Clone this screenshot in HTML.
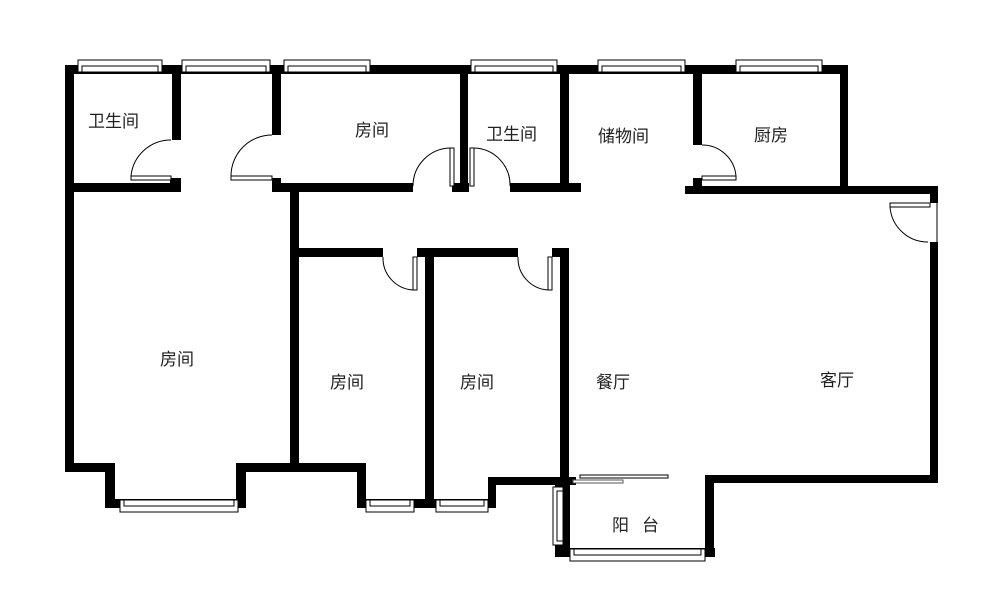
<!DOCTYPE html>
<html><head><meta charset="utf-8"><style>
html,body{margin:0;padding:0;background:#fff;width:1000px;height:599px;overflow:hidden}
text{font-family:"Liberation Sans","Noto Sans CJK SC",sans-serif;font-size:17px;fill:#222}
</style></head><body>
<svg width="1000" height="599" viewBox="0 0 1000 599" xmlns="http://www.w3.org/2000/svg">
<rect width="1000" height="599" fill="#fff"/>
<g fill="#000">
<!-- top wall -->
<rect x="65" y="65" width="783" height="9"/>
<!-- left outer -->
<rect x="65" y="65" width="9" height="407"/>
<!-- bath1 right -->
<rect x="172" y="65" width="9" height="75"/>
<rect x="170" y="178" width="11" height="14"/>
<rect x="65" y="183" width="116" height="9"/>
<!-- room top left wall -->
<rect x="272" y="65" width="9" height="70"/>
<rect x="272" y="178" width="9" height="14"/>
<rect x="272" y="183" width="141" height="9"/>
<!-- between room & bath2 -->
<rect x="452" y="183" width="17" height="9"/>
<rect x="460" y="65" width="8" height="127"/>
<rect x="510" y="183" width="71" height="9"/>
<rect x="560" y="65" width="9" height="127"/>
<!-- storage right -->
<rect x="693" y="65" width="9" height="80"/>
<rect x="693" y="178" width="9" height="16"/>
<rect x="685" y="186" width="253" height="8"/>
<rect x="840" y="65" width="8" height="129"/>
<!-- right outer -->
<rect x="930" y="186" width="8" height="17"/>
<rect x="930" y="242" width="8" height="241"/>
<!-- corridor wall -->
<rect x="290" y="192" width="9" height="280"/>
<rect x="290" y="248" width="93" height="9"/>
<rect x="417" y="248" width="101" height="9"/>
<rect x="425" y="248" width="9" height="260"/>
<rect x="552" y="248" width="17" height="9"/>
<rect x="560" y="248" width="9" height="237"/>
<!-- left room bottom -->
<rect x="65" y="463" width="50" height="9"/>
<rect x="105" y="463" width="10" height="45"/>
<rect x="105" y="499" width="140" height="9"/>
<rect x="236" y="463" width="10" height="45"/>
<rect x="236" y="463" width="130" height="9"/>
<rect x="357" y="463" width="9" height="45"/>
<rect x="357" y="499" width="139" height="9"/>
<rect x="488" y="477" width="8" height="31"/>
<rect x="488" y="477" width="88" height="8"/>
<!-- balcony -->
<rect x="555" y="477" width="15" height="80"/>
<rect x="555" y="548" width="160" height="9"/>
<rect x="705" y="475" width="9" height="82"/>
<rect x="705" y="475" width="233" height="8"/>
</g>
<!-- windows -->
<g fill="#fff" stroke="#000" stroke-width="1">
<rect x="78" y="60" width="84" height="12"/><rect x="82" y="66" width="76" height="6"/>
<rect x="182" y="60" width="88" height="12"/><rect x="186" y="66" width="80" height="6"/>
<rect x="284" y="60" width="86" height="12"/><rect x="288" y="66" width="78" height="6"/>
<rect x="471" y="60" width="86" height="12"/><rect x="475" y="66" width="78" height="6"/>
<rect x="598" y="60" width="87" height="12"/><rect x="602" y="66" width="79" height="6"/>
<rect x="736" y="60" width="86" height="12"/><rect x="740" y="66" width="78" height="6"/>
<rect x="120" y="500" width="118" height="12"/><rect x="124" y="500" width="110" height="6"/>
<rect x="366" y="500" width="48" height="12"/><rect x="370" y="500" width="40" height="6"/>
<rect x="436" y="500" width="52" height="12"/><rect x="440" y="500" width="44" height="6"/>
<rect x="570" y="549" width="135" height="12"/><rect x="574" y="549" width="127" height="6"/>
<rect x="553" y="487" width="10" height="58"/><rect x="557" y="491" width="6" height="50"/>
<rect x="928" y="203" width="10" height="39" stroke="none"/>
<line x1="937" y1="203" x2="937" y2="242"/>
<rect x="580" y="475" width="88" height="3"/>
<rect x="573" y="480" width="50" height="3" stroke="#555"/>
</g>
<!-- doors -->
<g fill="none" stroke="#000" stroke-width="1">
<rect x="131" y="176" width="40" height="4" fill="#fff"/>
<path d="M171 140 A40 40 0 0 0 131 176"/>
<rect x="231" y="176" width="41" height="4" fill="#fff"/>
<path d="M272 135 A41 41 0 0 0 231 176"/>
<rect x="450" y="148" width="4" height="38" fill="#fff"/>
<path d="M413 186 A38 38 0 0 1 450 148"/>
<rect x="470" y="148" width="4" height="38" fill="#fff"/>
<path d="M474 148 A37 37 0 0 1 510 186"/>
<rect x="702" y="176" width="34" height="4" fill="#fff"/>
<path d="M702 145 A34 34 0 0 1 736 176"/>
<rect x="890" y="203" width="40" height="4" fill="#fff"/>
<path d="M890 207 A38 38 0 0 0 928 242"/>
<rect x="413" y="257" width="4" height="33" fill="#fff"/>
<path d="M383 257 A32 32 0 0 0 413 290"/>
<rect x="548" y="257" width="4" height="33" fill="#fff"/>
<path d="M518 257 A32 32 0 0 0 548 290"/>
</g>
<g>
<text x="88" y="127">卫生间</text>
<text x="355" y="136">房间</text>
<text x="486" y="140">卫生间</text>
<text x="598" y="142">储物间</text>
<text x="754" y="141">厨房</text>
<text x="160" y="365">房间</text>
<text x="330" y="388">房间</text>
<text x="460" y="388">房间</text>
<text x="596" y="388">餐厅</text>
<text x="820" y="386">客厅</text>
<text x="612" y="531">阳</text><text x="642" y="531">台</text>
</g>
</svg>
</body></html>
